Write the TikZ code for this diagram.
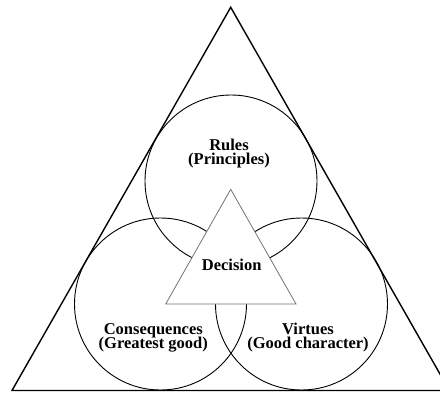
\documentclass[tikz,border=0pt]{standalone}
\usepackage{fontspec}
\setmainfont{Liberation Serif}
\begin{document}
\begin{tikzpicture}[x=1pt,y=-1pt,
  ring/.style={circle,draw=black,line width=0.9pt,minimum size=172pt,inner sep=0pt},
  lbl/.style={anchor=base,inner sep=0pt,font=\fontsize{16.5pt}{16.5pt}\selectfont\bfseries},
  outer/.style={draw=black,line width=1.4pt,line join=miter},
  inner/.style={draw=black!55,fill=white,line width=0.8pt}]
\useasboundingbox (0,0) rectangle (440,392);
\clip (0,0) rectangle (440,392);
\coordinate (A) at (230.7,7.3);
\coordinate (BL) at (12,390.5);
\coordinate (BR) at (449.4,390.5);
\draw[outer] (A) -- (BR) -- (BL) -- cycle;
\node[ring] (rules) at (231,181) {};
\node[ring] (cons) at (160.5,304) {};
\node[ring] (virt) at (301.5,304) {};
\coordinate (DA) at (230.7,189.3);
\coordinate (DL) at (165.7,304);
\coordinate (DR) at (296,304);
\draw[inner] (DA) -- (DR) -- (DL) -- cycle;
\node[lbl] (tr1) at (229,150) {Rules};
\node[lbl] (tr2) at (229,164.5) {(Principles)};
\node[lbl] (tc1) at (153.3,334.3) {Consequences};
\node[lbl] (tc2) at (153.3,348.5) {(Greatest good)};
\node[lbl] (tv1) at (308,334.3) {Virtues};
\node[lbl] (tv2) at (308,348.5) {(Good character)};
\node[lbl] (td) at (231.7,270.7) {Decision};
\end{tikzpicture}
\end{document}
